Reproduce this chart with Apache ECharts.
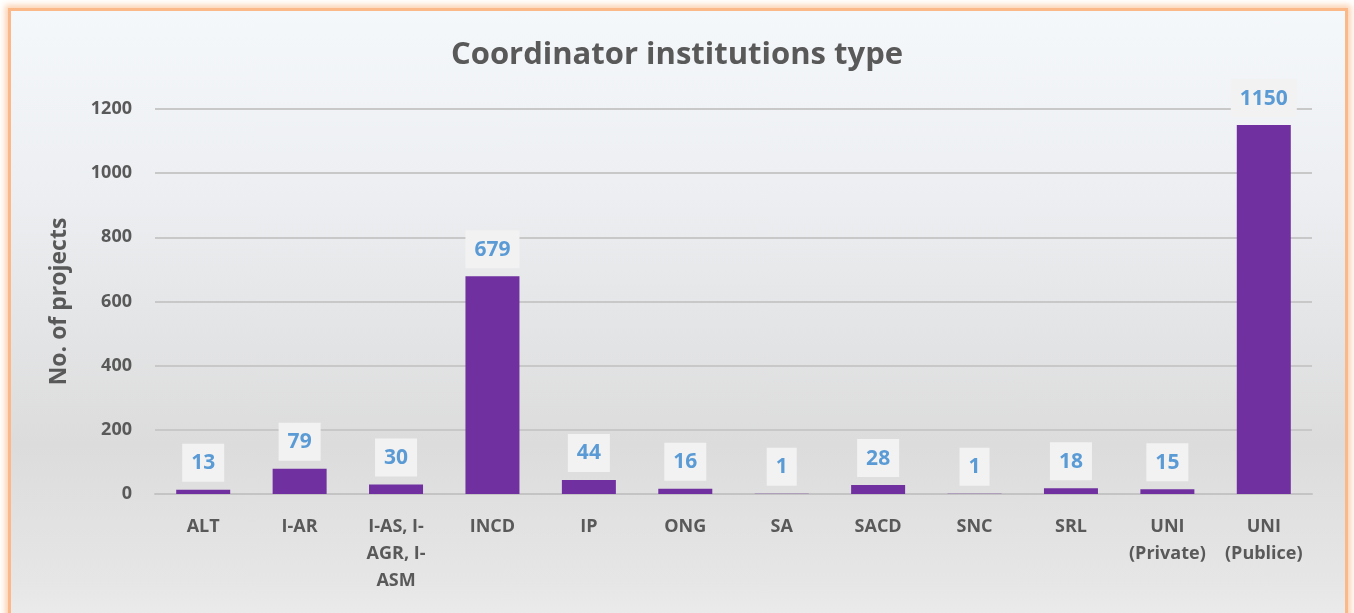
<!DOCTYPE html>
<html>
<head>
<meta charset="utf-8">
<script src="https://cdn.jsdelivr.net/npm/echarts@6/dist/echarts.min.js"></script>
<style>
  html, body { margin: 0; padding: 0; background: #ffffff; }
  #frame {
    position: absolute; left: 8px; top: 8px; width: 1334px; height: 620px;
    border: 3px solid #fbb98a;
    box-shadow: 0 0 6px 3px #fcd2b2;
    background: linear-gradient(to bottom, #f5f8fb 0%, #eceef1 30%, #dcdcdc 70%, #e6e6e6 92%, #ededed 100%);
  }
  #main { position: absolute; left: 0; top: 0; width: 1354px; height: 613px; }
</style>
</head>
<body>
<div id="frame"></div>
<div id="main"></div>
<script>
// 类别与数值
var categories = ['ALT', 'I-AR', 'I-AS, I-\nAGR, I-\nASM', 'INCD', 'IP', 'ONG', 'SA', 'SACD', 'SNC', 'SRL', 'UNI\n(Private)', 'UNI\n(Publice)'];
var projects = [13, 79, 30, 679, 44, 16, 1, 28, 1, 18, 15, 1150];

var font = '"Open Sans", sans-serif';
var chart = echarts.init(document.getElementById('main'));

chart.setOption({
    backgroundColor: 'transparent',
    title: {
        text: 'Coordinator institutions type',
        left: 'center',
        top: 35,
        textStyle: {color: '#595959', fontSize: 31, fontWeight: 'bold', fontFamily: font}
    },
    grid: {left: 155, right: 42, top: 109, bottom: 119},
    xAxis: {
        type: 'category',
        data: categories,
        axisLine: {lineStyle: {color: '#c4c4c4', width: 2}},
        axisTick: {show: false},
        axisLabel: {
            color: '#595959', fontSize: 18, fontWeight: 'bold', fontFamily: font,
            margin: 19, lineHeight: 27, interval: 0
        }
    },
    yAxis: {
        type: 'value',
        min: 0,
        max: 1200,
        interval: 200,
        name: 'No. of projects',
        nameLocation: 'middle',
        nameGap: 84,
        nameTextStyle: {color: '#595959', fontSize: 23, fontWeight: 'bold', fontFamily: font},
        axisLine: {show: false},
        axisTick: {show: false},
        splitLine: {lineStyle: {color: '#c8c8c8', width: 2}},
        axisLabel: {
            color: '#595959', fontSize: 18, fontWeight: 'bold', fontFamily: font, margin: 23,
            formatter: function(v) { return String(v); }
        }
    },
    series: [{
        type: 'bar',
        data: projects,
        barWidth: 54,
        itemStyle: {color: '#7030a0'},
        label: {
            show: true,
            position: 'top',
            distance: 8,
            color: '#5b9bd5',
            fontSize: 21,
            fontWeight: 'bold',
            fontFamily: font,
            backgroundColor: '#f2f2f2',
            padding: [9, 9, 8, 9]
        }
    }]
});
</script>
</body>
</html>
